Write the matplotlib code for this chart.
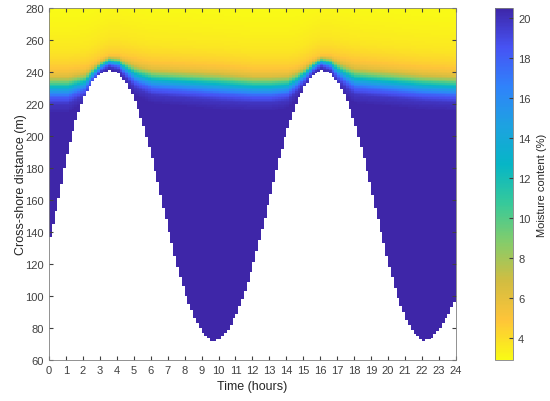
import numpy as np
import matplotlib
matplotlib.use("Agg")
import matplotlib.pyplot as plt
from matplotlib.colors import LinearSegmentedColormap

plt.rcParams['font.family'] = ['Liberation Sans', 'DejaVu Sans']

# shoreline position (m) read every half hour
shore_t = np.arange(0, 24.5, 0.5)
shore_d = [137, 161, 189, 210, 225, 234, 239.5, 241, 239, 233, 222, 206, 186, 163,
           140, 118, 100, 86, 77, 72, 73, 79, 89, 103, 121, 142, 164, 186, 205, 220,
           231, 238.5, 241, 239, 233, 222, 206, 186, 163, 140, 118, 99, 85, 76, 72,
           74, 80, 89, 100]

# lower (fully wet) and upper (dry) edge of the moisture front (m)
front_t = [0, 1, 2, 2.5, 3, 3.5, 4, 4.5, 5, 6, 8, 10, 12, 13, 14, 14.5, 15, 15.5,
           16, 16.5, 17, 17.5, 18, 20, 22, 24]
front_lo = [214, 214, 220, 230, 238, 241, 239, 232, 225, 220, 218, 216, 215, 215,
            217, 223, 229, 237, 241, 238, 230, 224, 220, 218, 216, 215]
front_hi = [243, 243, 244, 246, 249, 251, 251, 250, 249, 247, 246, 245, 243, 243,
            243, 244, 246, 249, 251, 251, 250, 249, 248, 246, 244, 243]

# moisture across the front (fraction of front width -> %)
prof_s = [0, 0.2, 0.35, 0.5, 0.6, 0.7, 0.8, 0.9, 1.0]
prof_v = [20.5, 19.8, 18, 14.5, 11.5, 8.5, 6.3, 5.3, 4.7]
# moisture above the front (m above upper edge -> %)
tail_z = [0, 5, 10, 20, 30, 40]
tail_v = [4.7, 4.1, 3.7, 3.3, 3.05, 2.9]

# parula colormap, reversed (wet = dark blue)
parula = [(0.2422, 0.1504, 0.6603), (0.2758, 0.3254, 0.9554), (0.1866, 0.5121, 0.9829),
          (0.1157, 0.6353, 0.8805), (0.0252, 0.7121, 0.7758), (0.2132, 0.7890, 0.6046),
          (0.5210, 0.8016, 0.4169), (0.8240, 0.7399, 0.2540), (0.9968, 0.7707, 0.2236),
          (0.9769, 0.9839, 0.0805)]
cmap = LinearSegmentedColormap.from_list('parula_r', parula[::-1], N=256)

t_edges = np.linspace(0, 24, 145)
d_edges = np.arange(60, 280.5, 1.0)
tc = t_edges[:-1]
dc = 0.5 * (d_edges[:-1] + d_edges[1:])

shore = np.interp(tc, shore_t, shore_d)
lo = np.interp(tc, front_t, front_lo)
hi = np.interp(tc, front_t, front_hi)

D, _ = np.meshgrid(dc, tc, indexing='ij')
s = (D - lo) / (hi - lo)
M = np.interp(s, prof_s, prof_v)
above = D > hi
M[above] = np.interp((D - hi)[above], tail_z, tail_v)
M = np.ma.masked_where(D < shore, M)

fig = plt.figure(figsize=(5.5, 4.02), dpi=100)
ax = fig.add_axes([0.089, 0.102, 0.74, 0.876])
pc = ax.pcolormesh(t_edges, d_edges, M, cmap=cmap, vmin=2.9, vmax=20.5)
ax.set_xlim(0, 24)
ax.set_ylim(60, 280)
ax.set_xticks(range(0, 25))
ax.set_yticks(range(60, 281, 20))
ax.tick_params(direction='in', length=3, labelsize=8, colors='#404040', top=True, right=True)
for sp in ax.spines.values():
    sp.set_color('#808080')
    sp.set_linewidth(0.6)
ax.set_xlabel('Time (hours)', fontsize=9, color='#262626', labelpad=4)
ax.set_ylabel('Cross-shore distance (m)', fontsize=9, color='#262626', labelpad=-1)

cax = fig.add_axes([0.9, 0.102, 0.033, 0.876])
cb = fig.colorbar(pc, cax=cax)
cb.set_ticks(range(4, 21, 2))
cb.ax.tick_params(direction='in', length=3, labelsize=8, colors='#404040')
cb.outline.set_edgecolor('#808080')
cb.outline.set_linewidth(0.6)
cb.set_label('Moisture content (%)', fontsize=8, color='#262626', labelpad=5)

fig.savefig('out.png', dpi=100)
